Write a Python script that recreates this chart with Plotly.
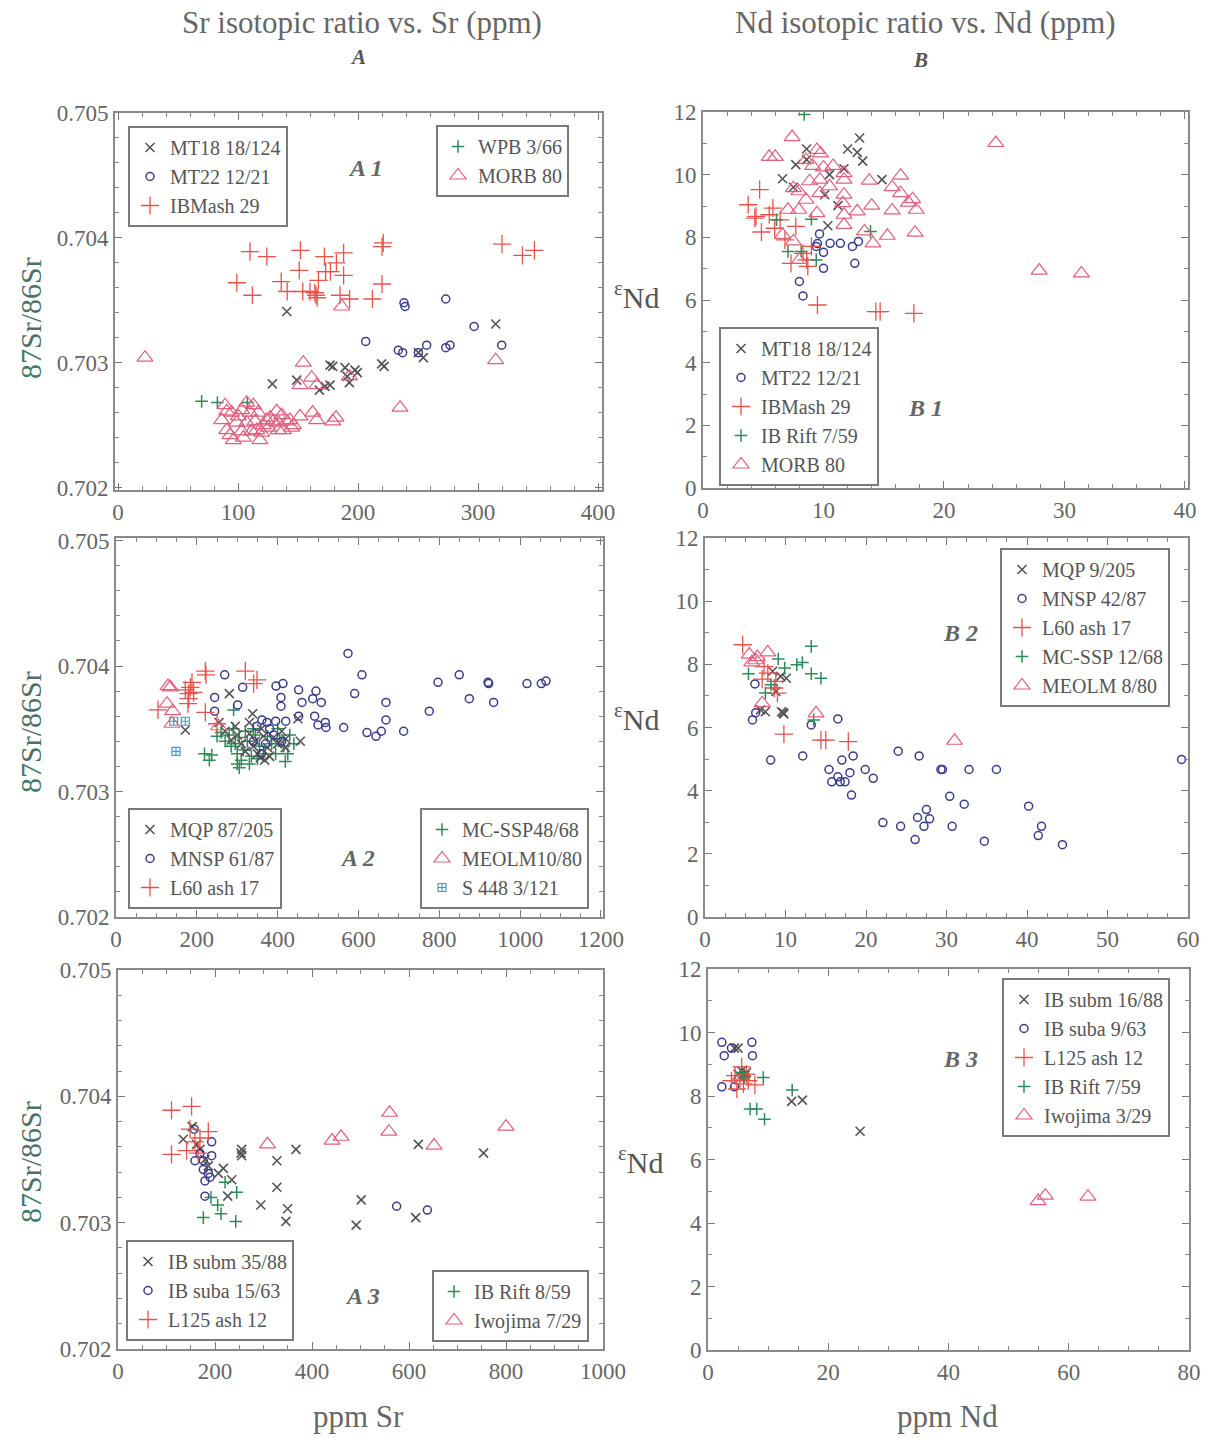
import plotly.graph_objects as go

W, H = 1219, 1438
FONT = "Liberation Serif, Times New Roman, serif"
GRAY = "#5a5a5a"

# ---------------- Panel A1 : 87Sr/86Sr vs Sr ----------------
a1_mt18_x = [140.6, 128.6, 148.9, 167.8, 176.7, 176.7, 178.9, 189.2, 192.8, 197.5, 199.4, 219.7, 221.7, 254.4, 314.7, 172.5, 250.3, 191.0]
a1_mt18_y = [0.70341, 0.70283, 0.70286, 0.70278, 0.70282, 0.70298, 0.70297, 0.70296, 0.70284, 0.70294, 0.70292, 0.70299, 0.70297, 0.70304, 0.70331, 0.70281, 0.70308, 0.70289]
a1_mt22_x = [206.4, 233.6, 237.2, 238.3, 239.2, 257.2, 273.1, 273.1, 276.7, 296.7, 319.7, 250.3]
a1_mt22_y = [0.70317, 0.70310, 0.70308, 0.70348, 0.70345, 0.70314, 0.70351, 0.70312, 0.70314, 0.70329, 0.70314, 0.70308]
a1_ibm_x = [110, 124, 152, 172, 188, 182, 173, 177, 151, 188, 167, 136, 99, 141, 154, 164, 166, 112, 185, 193, 212, 220, 221, 220, 320, 337, 347, 165, 160]
a1_ibm_y = [0.70389, 0.70385, 0.70390, 0.70385, 0.70388, 0.70380, 0.70373, 0.70373, 0.70374, 0.70370, 0.70366, 0.70365, 0.70364, 0.70357, 0.70357, 0.70356, 0.70352, 0.70354, 0.70354, 0.70351, 0.70351, 0.70363, 0.70396, 0.70393, 0.70395, 0.70386, 0.70390, 0.70354, 0.70357]
a1_wpb_x = [69.7, 82.8, 107.8]
a1_wpb_y = [0.70269, 0.70268, 0.70268]
a1_morb_x = [22.5, 154.4, 161.4, 151.7, 165.6, 162.2, 165.6, 178.9, 181.7, 192.8, 186.4, 235.0, 314.7,
             89.2, 86.4, 90.6, 96.1, 98.9, 103.1, 104.4, 107.2, 110.0, 112.8, 114.2, 115.6, 119.7, 121.1, 123.9,
             126.7, 129.4, 132.2, 133.6, 137.8, 140.6, 144.7, 146.1, 151.7, 94.7, 107.2, 100.3, 111.4, 116.9,
             125.3, 136.4, 93.3, 103.1, 118.3, 143.3, 133.6, 90.6]
a1_morb_y = [0.70304, 0.70300, 0.70288, 0.70282, 0.70282, 0.70260, 0.70254, 0.70253, 0.70256, 0.70289, 0.70345, 0.70264, 0.70302,
             0.70266, 0.70254, 0.70246, 0.70238, 0.70252, 0.70245, 0.70240, 0.70268, 0.70260, 0.70266, 0.70253, 0.70246, 0.70244, 0.70250, 0.70254,
             0.70256, 0.70253, 0.70261, 0.70252, 0.70246, 0.70253, 0.70248, 0.70250, 0.70257, 0.70260, 0.70252, 0.70257, 0.70245, 0.70260,
             0.70248, 0.70258, 0.70242, 0.70262, 0.70238, 0.70254, 0.70246, 0.70261]

# ---------------- Panel B1 : eNd vs Nd ----------------
b1_mt18_x = [8.6, 12.0, 13.0, 12.8, 13.25, 11.7, 14.85, 7.7, 6.6, 7.5, 10.36, 11.2, 10.1, 8.6, 10.5]
b1_mt18_y = [10.82, 10.82, 11.17, 10.71, 10.43, 10.19, 9.84, 10.32, 9.87, 9.6, 8.37, 9.01, 9.36, 10.48, 10.0]
b1_mt22_x = [9.67, 10.55, 11.4, 12.4, 12.9, 9.4, 10.0, 10.0, 12.6, 8.0, 8.3, 9.5]
b1_mt22_y = [8.11, 7.81, 7.81, 7.71, 7.87, 7.71, 7.52, 7.01, 7.17, 6.59, 6.13, 7.8]
b1_ibm_x = [4.7, 3.75, 4.4, 4.85, 5.8, 5.95, 6.8, 7.7, 7.3, 8.6, 9.0, 9.5, 14.35, 14.7, 17.5, 4.3, 6.4, 5.5, 8.3, 8.7]
b1_ibm_y = [9.52, 9.04, 8.67, 8.17, 8.93, 8.29, 7.92, 8.35, 7.17, 7.28, 7.71, 5.84, 5.63, 5.63, 5.57, 8.61, 8.56, 8.72, 7.49, 7.07]
b1_rift_x = [9.0, 13.9, 7.05, 6.1, 8.15, 9.4, 8.4]
b1_rift_y = [8.58, 8.19, 7.55, 8.56, 7.55, 7.28, 11.92]
b1_morb_x = [7.4, 5.5, 6.0, 9.45, 9.75, 8.55, 9.1, 10.0, 10.8, 11.7, 11.7, 9.7, 8.85, 10.5, 7.5, 7.95, 9.7, 11.7, 8.55, 11.6,
             7.05, 7.95, 9.45, 11.7, 11.7, 13.8, 16.4, 15.7, 16.4, 17.4, 17.05, 17.7, 14.0, 12.8, 15.7, 13.4, 14.1, 15.3, 17.6,
             24.3, 27.9, 31.4, 6.6, 7.5, 8.0]
b1_morb_y = [11.2, 10.57, 10.57, 10.79, 10.68, 10.47, 10.28, 10.23, 10.28, 10.05, 9.84, 9.84, 9.79, 9.63, 9.57, 9.47, 9.41, 9.36, 9.2, 9.09,
             8.88, 8.88, 8.77, 8.72, 8.4, 9.81, 9.97, 9.6, 9.41, 9.22, 9.11, 8.88, 9.01, 8.83, 8.86, 8.19, 7.81, 8.05, 8.15,
             11.01, 6.94, 6.85, 8.08, 7.87, 7.28]

# ---------------- Panel A2 ----------------
a2_mqp_x = [280.4, 338.1, 456.0, 450.3, 419.0, 171.5, 367.8, 357.0, 330, 345, 360, 310, 300, 375, 390, 320, 285, 350, 365, 400, 410, 330, 270, 380, 340, 295, 420, 255]
a2_mqp_y = [0.70378, 0.70362, 0.70340, 0.70358, 0.70335, 0.70349, 0.70325, 0.70327, 0.70346, 0.70340, 0.70350, 0.70338, 0.70345, 0.70335, 0.70343, 0.70332, 0.70341, 0.70330, 0.70344, 0.70338, 0.70348, 0.70355, 0.70348, 0.70328, 0.70336, 0.70352, 0.70342, 0.70355]
a2_mnsp_x = [268.9, 313.4, 244.1, 244.1, 301.0, 395.9, 413.2, 408.2, 408.2, 451.9, 460.2, 494.8, 486.6, 508.0, 451.9, 491.5, 499.8, 517.9, 519.6, 563.3,
             574.0, 621.0, 643.3, 656.5, 668.0, 668.0, 711.7, 775.2, 796.7, 849.4, 874.2, 920.4, 922.0, 934.4, 1016.9, 1052.3, 1063.9, 590.5, 608.6,
             348.8, 361.0, 373.6, 390, 380, 340, 370, 395, 410, 360, 420]
a2_mnsp_y = [0.70393, 0.70383, 0.70375, 0.70364, 0.70369, 0.70384, 0.70386, 0.70375, 0.70368, 0.70381, 0.70371, 0.70380, 0.70374, 0.70371, 0.70360, 0.70360, 0.70353, 0.70355, 0.70351, 0.70351,
             0.70410, 0.70347, 0.70344, 0.70348, 0.70371, 0.70357, 0.70348, 0.70364, 0.70387, 0.70393, 0.70374, 0.70387, 0.70386, 0.70371, 0.70386, 0.70386, 0.70388, 0.70378, 0.70393,
             0.70352, 0.70357, 0.70355, 0.70345, 0.70350, 0.70340, 0.70338, 0.70356, 0.70340, 0.70330, 0.70356]
a2_l60_x = [221.0, 222.7, 320.0, 340.6, 348.8, 188.0, 184.0, 179.8, 179.8, 103.9, 221.0, 171.5, 192.0, 178.0, 250.0]
a2_l60_y = [0.70396, 0.70393, 0.70396, 0.70386, 0.70389, 0.70387, 0.70383, 0.70378, 0.70374, 0.70365, 0.70363, 0.70381, 0.70379, 0.70370, 0.70354]
a2_mcssp_x = [291, 219, 231, 237, 419, 305, 280, 295, 305, 315, 325, 335, 345, 300, 285, 270, 310, 320, 340, 355, 365, 375, 385, 395, 405, 415, 430, 440, 260, 250, 330, 350, 300, 290, 400, 425]
a2_mcssp_y = [0.70365, 0.70330, 0.70325, 0.70329, 0.70324, 0.70319, 0.70345, 0.70338, 0.70343, 0.70333, 0.70340, 0.70328, 0.70345, 0.70330, 0.70336, 0.70340, 0.70325, 0.70348, 0.70350, 0.70336, 0.70330, 0.70344, 0.70338, 0.70330, 0.70342, 0.70336, 0.70345, 0.70338, 0.70347, 0.70344, 0.70322, 0.70326, 0.70322, 0.70350, 0.70350, 0.70330]
a2_meolm_x = [128.7, 126.2, 140.2, 138.6, 134.4, 254.0]
a2_meolm_y = [0.70384, 0.70370, 0.70364, 0.70354, 0.70383, 0.70352]
a2_s448_x = [148.4, 142.7, 171.5]
a2_s448_y = [0.70332, 0.70356, 0.70356]

# ---------------- Panel B2 ----------------
b2_mqp_x = [9.7, 9.5, 9.8, 10.1, 7.5, 6.9, 8.4, 8.8, 9.4]
b2_mqp_y = [6.47, 6.5, 6.43, 7.56, 6.5, 6.56, 7.78, 7.14, 7.62]
b2_mnsp_x = [8.16, 12.14, 13.2, 16.5, 15.4, 15.75, 16.5, 16.8, 17.4, 17.0, 18.0, 18.4, 18.2, 19.9, 20.9, 22.1, 24.0, 24.3, 26.1, 26.4, 26.6,
             27.2, 27.5, 27.9, 29.3, 29.5, 30.4, 30.7, 32.2, 32.8, 34.7, 36.2, 40.2, 41.4, 41.8, 44.4, 59.2, 6.2, 6.3, 5.9]
b2_mnsp_y = [4.97, 5.10, 6.08, 6.27, 4.67, 4.28, 4.44, 4.28, 4.28, 4.97, 4.57, 5.10, 3.86, 4.67, 4.39, 2.99, 5.25, 2.87, 2.45, 3.15, 5.10,
             2.87, 3.40, 3.11, 4.67, 4.67, 3.82, 2.87, 3.57, 4.67, 2.40, 4.67, 3.51, 2.58, 2.87, 2.29, 4.99, 7.38, 6.47, 6.24]
b2_l60_x = [4.68, 7.34, 7.1, 8.8, 9.0, 9.8, 14.4, 15.0, 17.8, 8.6, 7.8]
b2_l60_y = [8.62, 7.93, 7.53, 7.46, 7.09, 5.79, 5.60, 5.60, 5.55, 7.25, 7.72]
b2_mcssp_x = [13.2, 5.4, 9.1, 9.9, 11.4, 12.1, 13.2, 14.4, 7.5, 8.2, 13.5]
b2_mcssp_y = [8.57, 7.70, 8.17, 7.88, 7.99, 8.06, 7.70, 7.56, 7.09, 7.35, 6.24]
b2_meolm_x = [5.5, 6.3, 7.8, 7.1, 13.8, 31.0, 5.8, 6.5]
b2_meolm_y = [8.31, 8.13, 8.38, 6.77, 6.45, 5.58, 8.06, 8.23]

# ---------------- Panel A3 ----------------
a3_subm_x = [153.0, 134.5, 255.0, 255.0, 253.8, 327.6, 366.9, 327.6, 294.5, 349.7, 346.2, 501.4, 491.0, 619.3, 613.8, 753.8, 217.2, 234.5, 226.2, 206.9, 179.3, 186.2, 169.0, 162.0]
a3_subm_y = [0.70376, 0.70366, 0.70358, 0.70353, 0.70355, 0.70349, 0.70358, 0.70328, 0.70314, 0.70311, 0.70301, 0.70318, 0.70298, 0.70362, 0.70304, 0.70355, 0.70343, 0.70334, 0.70321, 0.70339, 0.70350, 0.70345, 0.70358, 0.70362]
a3_suba_x = [157.2, 193.1, 158.6, 175.9, 193.1, 175.9, 189.7, 179.3, 179.3, 574.5, 637.9, 169.0, 186.2]
a3_suba_y = [0.70374, 0.70364, 0.70349, 0.70349, 0.70353, 0.70342, 0.70336, 0.70333, 0.70321, 0.70313, 0.70310, 0.70355, 0.70339]
a3_l125_x = [110.3, 151.7, 110.3, 141.4, 158.6, 186.2, 148.3, 169.0, 165.5]
a3_l125_y = [0.70389, 0.70392, 0.70354, 0.70357, 0.70364, 0.70372, 0.70374, 0.70367, 0.70355]
a3_rift_x = [175.9, 212.4, 242.8, 205.5, 191.7, 244.8, 220.7]
a3_rift_y = [0.70304, 0.70307, 0.70301, 0.70314, 0.70320, 0.70324, 0.70332]
a3_iwo_x = [308.3, 441.4, 460.0, 560.0, 558.6, 651.7, 800.0]
a3_iwo_y = [0.70362, 0.70365, 0.70368, 0.70387, 0.70372, 0.70361, 0.70376]

# ---------------- Panel B3 ----------------
b3_subm_x = [5.0, 4.4, 13.9, 15.7, 25.3, 5.6, 6.15, 5.0, 6.4]
b3_subm_y = [9.51, 9.51, 7.83, 7.87, 6.89, 8.79, 8.64, 8.69, 8.74]
b3_suba_x = [2.3, 7.3, 3.9, 2.7, 7.4, 2.3, 4.4, 5.9]
b3_suba_y = [9.69, 9.69, 9.51, 9.27, 9.27, 8.29, 8.29, 8.64]
b3_l125_x = [4.5, 5.6, 6.4, 7.8, 4.8, 3.9, 6.7, 5.3, 5.9]
b3_l125_y = [8.64, 8.92, 8.69, 8.35, 8.22, 8.48, 8.48, 8.53, 8.38]
b3_rift_x = [9.2, 14.0, 7.0, 8.1, 9.4, 6.0, 5.6]
b3_rift_y = [8.58, 8.19, 7.59, 7.59, 7.27, 8.58, 8.74]
b3_iwo_x = [54.9, 56.1, 63.2]
b3_iwo_y = [4.69, 4.86, 4.83]

# ---------------- styles ----------------
STY = {
    "x":   dict(symbol="x-thin", size=9, color="#555555", line=dict(width=1.6, color="#555555")),
    "o":   dict(symbol="circle-open", size=8, color="#3b3b8c", line=dict(width=1.5)),
    "+r":  dict(symbol="cross-thin", size=13, color="#e8524c", line=dict(width=1.3, color="#e8524c")),
    "+g":  dict(symbol="cross-thin", size=9, color="#2e8b5a", line=dict(width=1.5, color="#2e8b5a")),
    "tri": dict(symbol="triangle-up-open", size=14, color="#e0607e", line=dict(width=1.2)),
    "sq":  dict(symbol="square-cross-open", size=8, color="#3aa0c8", line=dict(width=1.2)),
}

fig = go.Figure()

def add(xs, ys, name, sty, panel, legend):
    fig.add_trace(go.Scatter(
        x=xs, y=ys, mode="markers", name=name, marker=STY[sty],
        xaxis="x" if panel == 1 else f"x{panel}", yaxis="y" if panel == 1 else f"y{panel}",
        legend=legend))

add(a1_mt18_x, a1_mt18_y, "MT18 18/124", "x", 1, "legend")
add(a1_mt22_x, a1_mt22_y, "MT22 12/21", "o", 1, "legend")
add(a1_ibm_x, a1_ibm_y, "IBMash 29", "+r", 1, "legend")
add(a1_wpb_x, a1_wpb_y, "WPB 3/66", "+g", 1, "legend2")
add(a1_morb_x, a1_morb_y, "MORB 80", "tri", 1, "legend2")

add(b1_mt18_x, b1_mt18_y, "MT18 18/124", "x", 2, "legend3")
add(b1_mt22_x, b1_mt22_y, "MT22 12/21", "o", 2, "legend3")
add(b1_ibm_x, b1_ibm_y, "IBMash 29", "+r", 2, "legend3")
add(b1_rift_x, b1_rift_y, "IB Rift 7/59", "+g", 2, "legend3")
add(b1_morb_x, b1_morb_y, "MORB 80", "tri", 2, "legend3")

add(a2_mcssp_x, a2_mcssp_y, "MC-SSP48/68", "+g", 3, "legend5")
add(a2_mqp_x, a2_mqp_y, "MQP 87/205", "x", 3, "legend4")
add(a2_mnsp_x, a2_mnsp_y, "MNSP 61/87", "o", 3, "legend4")
add(a2_l60_x, a2_l60_y, "L60 ash 17", "+r", 3, "legend4")
add(a2_meolm_x, a2_meolm_y, "MEOLM10/80", "tri", 3, "legend5")
add(a2_s448_x, a2_s448_y, "S 448 3/121", "sq", 3, "legend5")

add(b2_mqp_x, b2_mqp_y, "MQP 9/205", "x", 4, "legend6")
add(b2_mnsp_x, b2_mnsp_y, "MNSP 42/87", "o", 4, "legend6")
add(b2_l60_x, b2_l60_y, "L60 ash 17", "+r", 4, "legend6")
add(b2_mcssp_x, b2_mcssp_y, "MC-SSP 12/68", "+g", 4, "legend6")
add(b2_meolm_x, b2_meolm_y, "MEOLM 8/80", "tri", 4, "legend6")

add(a3_subm_x, a3_subm_y, "IB subm 35/88", "x", 5, "legend7")
add(a3_suba_x, a3_suba_y, "IB suba 15/63", "o", 5, "legend7")
add(a3_l125_x, a3_l125_y, "L125 ash 12", "+r", 5, "legend7")
add(a3_rift_x, a3_rift_y, "IB Rift 8/59", "+g", 5, "legend8")
add(a3_iwo_x, a3_iwo_y, "Iwojima 7/29", "tri", 5, "legend8")

add(b3_subm_x, b3_subm_y, "IB subm 16/88", "x", 6, "legend9")
add(b3_suba_x, b3_suba_y, "IB suba 9/63", "o", 6, "legend9")
add(b3_l125_x, b3_l125_y, "L125 ash 12", "+r", 6, "legend9")
add(b3_rift_x, b3_rift_y, "IB Rift 7/59", "+g", 6, "legend9")
add(b3_iwo_x, b3_iwo_y, "Iwojima 3/29", "tri", 6, "legend9")

panels = [
    (115, 602, 113, 490, [-2.5, 403.3], [0.70198, 0.705], 100, 20, 0.001, 0.0002, ".3f"),
    (703, 1188, 112, 488, [0, 40.25], [0, 12], 10, 2, 2, 1, "d"),
    (116, 603, 538, 917, [0, 1205], [0.702, 0.70502], 200, 50, 0.001, 0.0002, ".3f"),
    (705, 1188, 538, 917, [0, 60], [0, 12], 10, 2.5, 2, 1, "d"),
    (118, 603, 970, 1349, [0, 1000], [0.702, 0.705], 200, 50, 0.001, 0.0002, ".3f"),
    (708, 1189, 969, 1350, [0, 80], [0, 12], 20, 5, 2, 1, "d"),
]

tickfont = dict(family=FONT, size=23, color="#666666")
lay = {}
for i, (l, r, t, b, xr, yr, xd, xm, yd, ym, yf) in enumerate(panels, start=1):
    xk = "xaxis" if i == 1 else f"xaxis{i}"
    yk = "yaxis" if i == 1 else f"yaxis{i}"
    xa = "x" if i == 1 else f"x{i}"
    ya = "y" if i == 1 else f"y{i}"
    common = dict(showline=True, linecolor="#8a8a8a", linewidth=2, mirror="ticks",
                  ticks="inside", ticklen=7, tickwidth=1.3, tickcolor="#777777",
                  showgrid=False, zeroline=False, tickfont=tickfont, automargin=False)
    lay[xk] = dict(domain=[l / W, r / W], range=xr, anchor=ya, dtick=xd, tick0=0,
                   minor=dict(dtick=xm, ticks="inside", ticklen=4, tickcolor="#888888", showgrid=False),
                   **common)
    lay[yk] = dict(domain=[1 - b / H, 1 - t / H], range=yr, anchor=xa, dtick=yd, tick0=0,
                   tickformat=yf,
                   minor=dict(dtick=ym, ticks="inside", ticklen=4, tickcolor="#888888", showgrid=False),
                   **common)

legfont = dict(family=FONT, size=20, color="#555555")
leg_pos = {
    "legend": (128, 126), "legend2": (436, 125), "legend3": (719, 327),
    "legend4": (128, 808), "legend5": (420, 808), "legend6": (1000, 548),
    "legend7": (126, 1240), "legend8": (432, 1270), "legend9": (1002, 978),
}
for k, (px, py) in leg_pos.items():
    lay[k] = dict(x=px / W, y=1 - py / H, xanchor="left", yanchor="top",
                  font=legfont, bordercolor="#7a7a7a", borderwidth=2, bgcolor="rgba(255,255,255,0.9)",
                  tracegroupgap=0)

def ann(text, px, py, size, color=GRAY, angle=0, bold=False, italic=False):
    if bold:
        text = f"<b>{text}</b>"
    if italic:
        text = f"<i>{text}</i>"
    return dict(text=text, x=px / W, y=1 - py / H, xref="paper", yref="paper",
                xanchor="center", yanchor="middle", showarrow=False, textangle=angle,
                font=dict(family=FONT, size=size, color=color))

annotations = [
    ann("Sr isotopic ratio vs. Sr (ppm)", 362, 22, 31, "#666666"),
    ann("A", 358, 57, 21, "#555555", bold=True, italic=True),
    ann("Nd isotopic ratio vs. Nd (ppm)", 925, 22, 31, "#666666"),
    ann("B", 920, 60, 21, "#555555", bold=True, italic=True),
    ann("ppm Sr", 358, 1416, 31, "#666666"),
    ann("ppm Nd", 947, 1416, 31, "#666666"),
    ann("A 1", 365, 168, 24, "#666666", bold=True, italic=True),
    ann("B 1", 925, 408, 24, "#666666", bold=True, italic=True),
    ann("A 2", 357, 858, 24, "#666666", bold=True, italic=True),
    ann("B 2", 960, 633, 24, "#666666", bold=True, italic=True),
    ann("A 3", 362, 1296, 24, "#666666", bold=True, italic=True),
    ann("B 3", 960, 1059, 24, "#666666", bold=True, italic=True),
]
for py in (318, 732, 1162):
    annotations.append(ann("<span style='color:#3d7a68'>87</span>Sr/86Sr", 30, py, 30, "#4e7068", angle=-90))
for px, py in ((637, 295), (637, 717), (641, 1160)):
    annotations.append(ann("<sup>ε</sup>Nd", px, py, 30, "#555555"))

fig.update_layout(
    width=W, height=H, autosize=False, margin=dict(l=0, r=0, t=0, b=0, pad=0, autoexpand=False),
    paper_bgcolor="white", plot_bgcolor="white",
    showlegend=True, annotations=annotations, **lay)

fig.write_html("out.html", config={"responsive": False, "displayModeBar": False},
               post_script="document.body.style.margin='0';document.body.style.overflow='hidden';")
